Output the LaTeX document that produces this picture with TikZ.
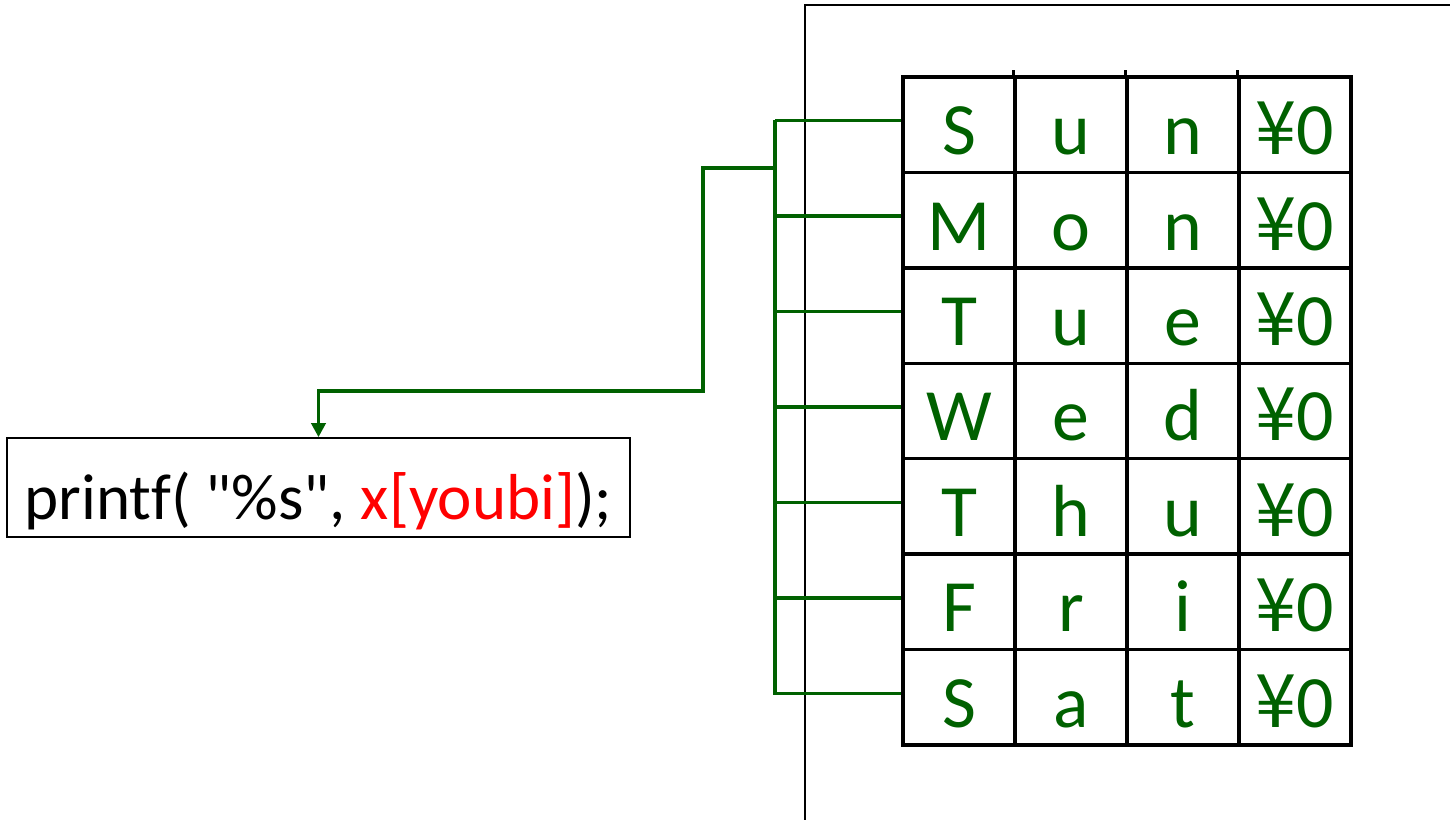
\documentclass[tikz,border=0pt]{standalone}
\usepackage{fontspec}
\setmainfont{Carlito}[Ligatures={TeXOff,CommonOff}]
\newfontfamily\jpfont{Noto Sans CJK JP}
\usepackage{xcolor}
\usetikzlibrary{arrows.meta, positioning}
\definecolor{tabgreen}{RGB}{0,97,0}
\definecolor{codered}{RGB}{255,0,0}

\begin{document}
\begin{tikzpicture}[x=0.02cm, y=-0.02cm,
      cell/.style={draw, line width=2pt, minimum width=2.24cm, minimum height=1.909cm,
                   inner sep=0pt, text height=1.2cm, text depth=0pt,
                   text=tabgreen, font=\fontsize{42}{50}\selectfont},
      code/.style={draw, line width=0.9pt, minimum width=12.46cm, minimum height=1.98cm,
                   inner sep=0pt, text height=1.3cm, text depth=0pt,
                   font=\fontsize{37}{45}\selectfont},
      link/.style={tabgreen, line width=2pt},
      frame/.style={line width=0.9pt}
    ]
    \useasboundingbox (0,0) rectangle (1450,820);

    % memory area
    \draw[frame] (805,820) -- (805,5) -- (1450,5);

    % table of strings
    \foreach \a/\b/\c [count=\r from 0] in {S/u/n, M/o/n, T/u/e, W/e/d, T/h/u, F/r/i, S/a/t} {
      \pgfmathsetmacro\yc{124.7+95.43*\r}
      \node[cell] (c\r-0) at (959,\yc)  {\a};
      \node[cell] (c\r-1) at (1071,\yc) {\b};
      \node[cell] (c\r-2) at (1183,\yc) {\c};
      \node[cell] (c\r-3) at (1295,\yc) {{\jpfont ¥}0};
    }
    \foreach \k in {1,2,3}
      \draw[line width=2pt] (c0-\k.north west) -- ++(0,-5);

    % pointers to each row
    \coordinate (bustop) at (775,120);
    \coordinate (busbot) at (775,695);
    \draw[link] (bustop) -- (busbot);
    \foreach \r in {0,...,6} {
      \coordinate (p\r) at ([yshift=0.08cm]c\r-0.west);
      \draw[link] (bustop |- p\r) -- (p\r);
    }

    % code
    \node[code] (printf) at (318.5,487.5) {printf( "\%s", \textcolor{codered}{x[youbi]});};

    \coordinate (bus) at (775,168);
    \coordinate (turn) at (703,391);
    \draw[link, -{Triangle[length=0.28cm, width=0.28cm]}] (bus) -| (turn) -| (printf.north);
  \end{tikzpicture}
\end{document}
